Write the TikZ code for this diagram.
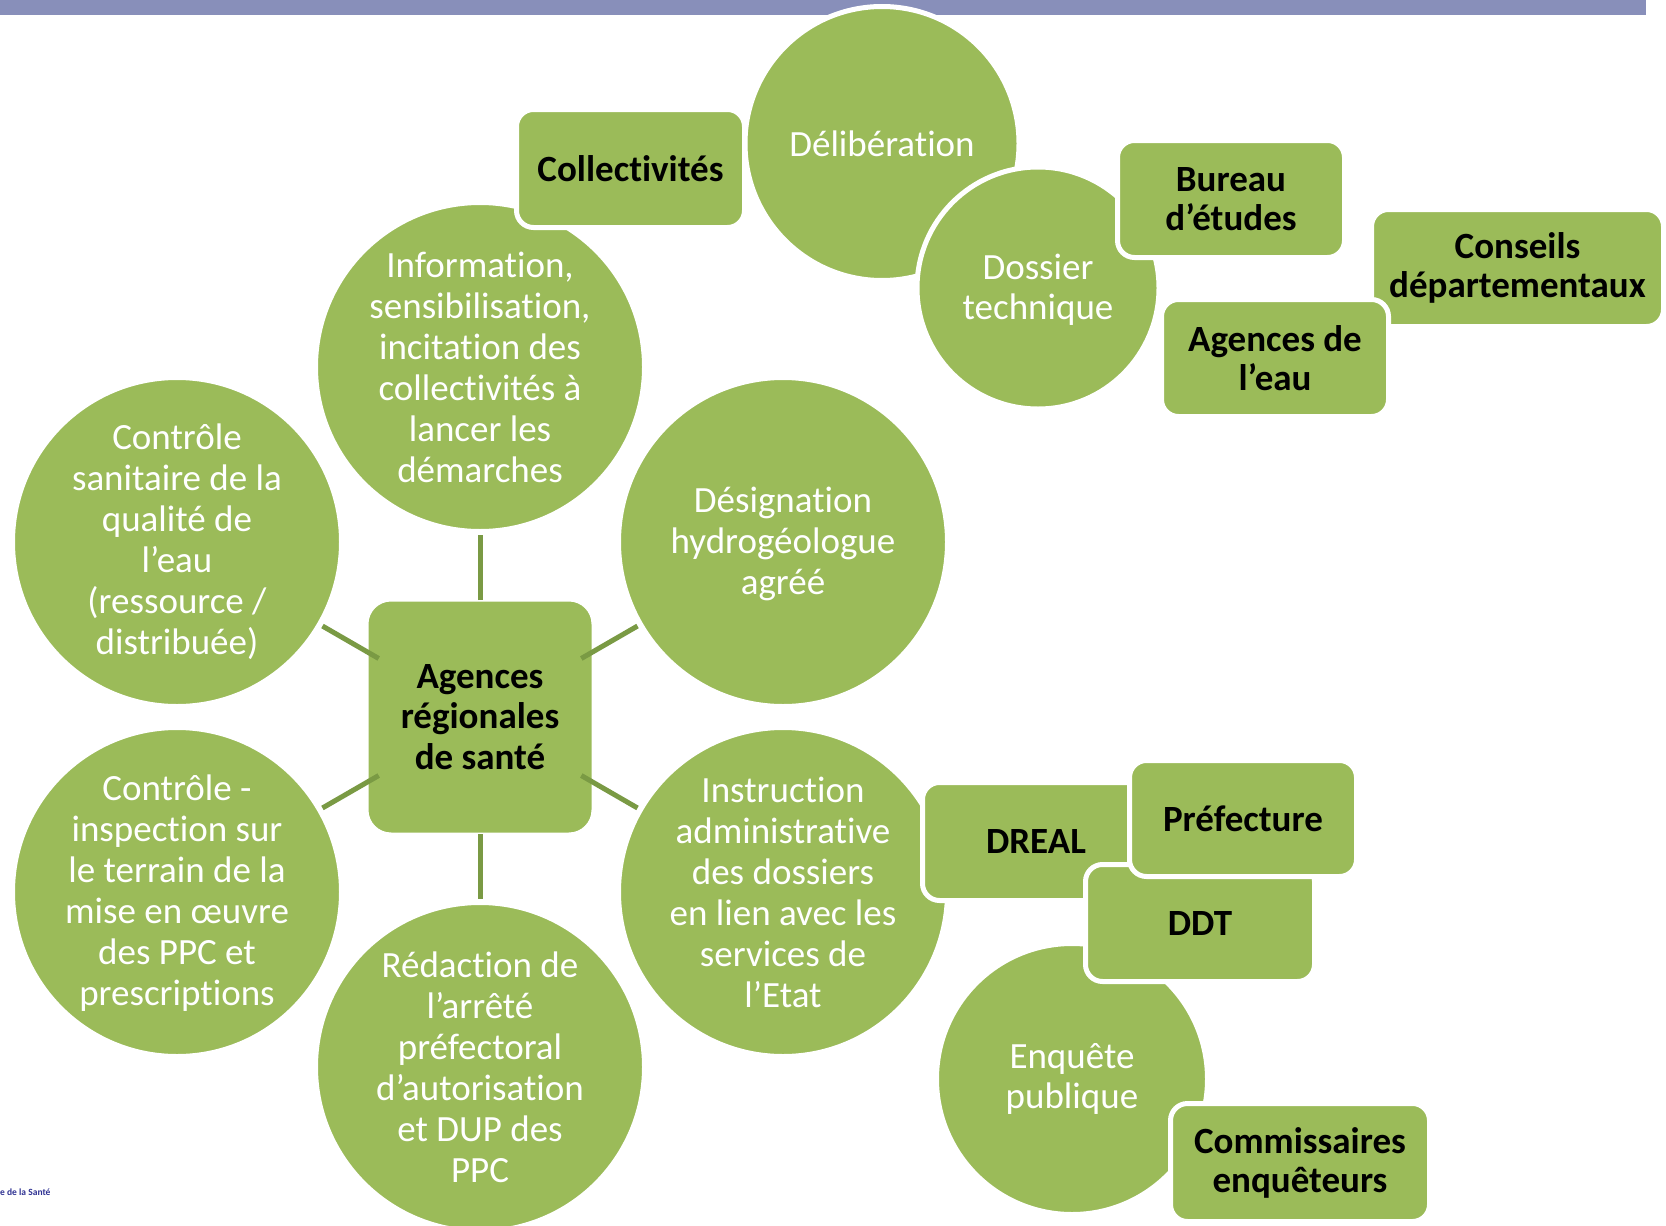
\documentclass[tikz,border=0pt]{standalone}
\usepackage{fontspec}
\setmainfont{Carlito}[RawFeature={-liga;-clig;-calt;-dlig}]
\newcommand{\nolig}{\kern0pt}
\definecolor{sagreen}{HTML}{9BBB59}
\definecolor{salink}{HTML}{7A9A44}
\definecolor{sabar}{HTML}{888FBA}
\definecolor{safoot}{HTML}{2E3192}
\begin{document}
\begin{tikzpicture}[x=1pt,y=-1pt,
  maincirc/.style={circle, fill=sagreen, draw=white, line width=5pt, minimum size=329pt, inner sep=0pt},
  satcirc/.style={circle, fill=sagreen, draw=white, line width=5pt, inner sep=0pt},
  ctext/.style={text=white, align=center, font=\fontsize{37}{41}\selectfont, inner sep=0pt},
  stext/.style={text=white, align=center, font=\fontsize{37}{40}\selectfont, inner sep=0pt},
  sbox/.style={rectangle, rounded corners=17pt, fill=sagreen, draw=white, line width=5pt, inner sep=0pt, align=center, font=\fontsize{37}{39}\selectfont\bfseries, text=black, minimum height=117pt},
  link/.style={draw=salink, line width=5pt, shorten <=117pt, shorten >=168pt}
]
\useasboundingbox (0,0) rectangle (1666,1226);
\clip (0,0) rectangle (1666,1226);

% top bar
\fill[sabar] (0,0) rectangle (1646,15);

% upper right cluster
\node[satcirc, minimum size=274pt] (delib) at (882,143.5) {};
\node[stext] (delibt) at (delib) {Délibérat\nolig ion};
\node[satcirc, minimum size=242pt] (doss) at (1038,288) {};
\node[stext] (dosst) at (1038,290) {Dossier\\technique};
\node[sbox, minimum width=227pt] (bureau) at (1231,199) {Bureau\\d’études};
\node[sbox, minimum width=292pt] (conseils) at (1517.5,268) {Conseils\\départementaux};
\node[sbox, minimum width=227pt] (ageau) at (1275,358) {Agences de\\l’eau};

% main circles
\node[maincirc] (cinfo) at (480,367) {};
\node[ctext] (cinfot) at (cinfo) {Informat\nolig ion,\\sensibilisat\nolig ion,\\incitat\nolig ion des\\collect\nolig ivités à\\lancer les\\démarches};
\node[sbox, minimum width=228pt, minimum height=118pt] (collect) at (630.5,168.5) {Collect\nolig ivités};

\node[maincirc] (csan) at (177,542) {};
\node[ctext] (csant) at (csan) {Contrôle\\sanitaire de la\\qualité de\\l’eau\\(ressource /\\distribuée)};

\node[maincirc] (cdes) at (783,542) {};
\node[ctext] (cdest) at (783,544) {Désignat\nolig ion\\hydrogéologue\\agréé};

\node[maincirc] (cinsp) at (177,892) {};
\node[ctext] (cinspt) at (177,893.5) {Contrôle -\\inspect\nolig ion sur\\le terrain de la\\mise en œuvre\\des PPC et\\prescript\nolig ions};

\node[maincirc] (cred) at (480,1067) {};
\node[ctext] (credt) at (cred) {Rédact\nolig ion de\\l’arrêté\\préfectoral\\d’autorisat\nolig ion\\et DUP des\\PPC};

\node[maincirc] (cinst) at (783,892) {};
\node[ctext] (cinstt) at (cinst) {Instruct\nolig ion\\administrat\nolig ive\\des dossiers\\en lien avec les\\services de\\l’Etat};

% lower right cluster
\node[satcirc, minimum size=271pt] (enq) at (1072,1079) {};
\node[stext] (enqt) at (enq) {Enquête\\publique};
\node[sbox, minimum width=227pt, minimum height=118pt] (dreal) at (1036,841.5) {DREAL};
\node[sbox, minimum width=229pt] (ddt) at (1200,923) {DDT};
\node[sbox, minimum width=227pt, minimum height=116pt] (pref) at (1243,818.5) {Préfecture};
\node[sbox, minimum width=259pt, minimum height=118pt] (commis) at (1300,1162.5) {Commissaires\\enquêteurs};

% centre
\node[rectangle, rounded corners=25pt, fill=sagreen, draw=white, line width=5pt, inner sep=0pt,
  minimum width=228pt, minimum height=236pt, align=center,
  font=\fontsize{37}{40.5}\selectfont\bfseries] (ars) at (480,717) {Agences\\régionales\\de santé};

\draw[link] (ars.center) -- (cinfo.center);
\draw[link] (ars.center) -- (cdes.center);
\draw[link] (ars.center) -- (cinst.center);
\draw[link] (ars.center) -- (cred.center);
\draw[link] (ars.center) -- (cinsp.center);
\draw[link] (ars.center) -- (csan.center);

% footer
\node[anchor=west, inner sep=0pt, text=safoot, font=\fontsize{9.5}{11}\selectfont\bfseries] (foot) at (0,1192) {e de la Santé};
\end{tikzpicture}
\end{document}
